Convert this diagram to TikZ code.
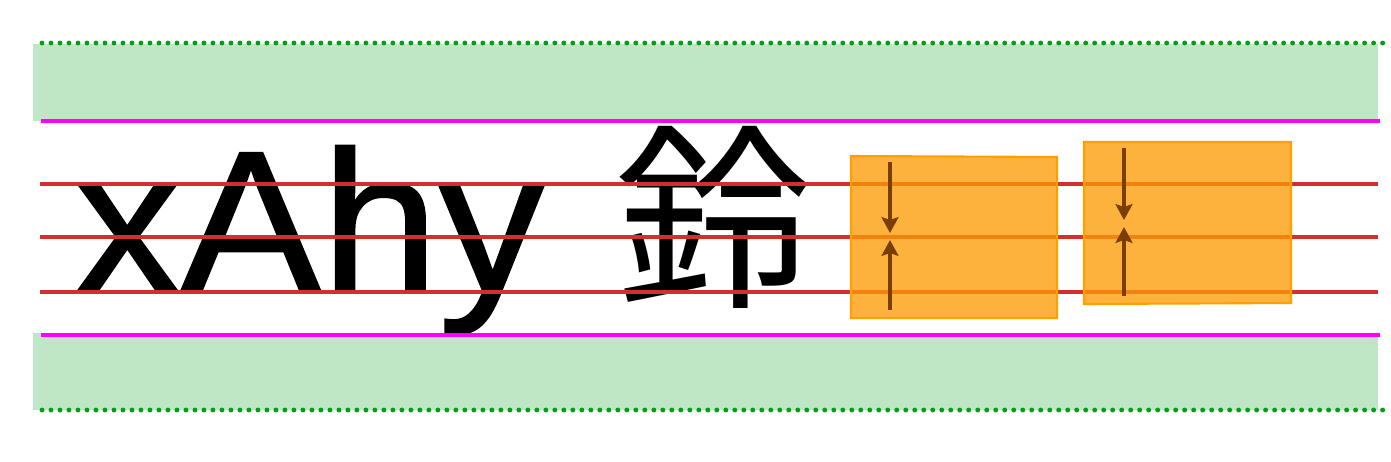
\documentclass[tikz,border=0pt]{standalone}
\usepackage{fontspec}
\usetikzlibrary{arrows.meta}
\newfontfamily\cjkfont{Noto Sans CJK JP}
\newfontfamily\latinfont[FakeBold=1]{Liberation Sans}
\definecolor{bandgreen}{RGB}{192,231,197}
\definecolor{dotgreen}{RGB}{0,160,20}
\definecolor{limitpink}{RGB}{255,0,255}
\definecolor{linered}{RGB}{211,47,47}
\definecolor{boxfill}{RGB}{252,155,4}
\definecolor{boxedge}{RGB}{255,160,0}
\definecolor{arrowbrown}{RGB}{122,62,0}
\tikzset{
  band/.style={fill=bandgreen, draw=none},
  dotline/.style={dotgreen, line width=1.4pt, line cap=round, dash pattern=on 0pt off 2.56pt},
  limitline/.style={limitpink, line width=1.2pt},
  guideline/.style={linered, line width=0.95pt},
  sample/.style={inner sep=0pt, anchor=base west},
  markbox/.style={fill=boxfill, fill opacity=0.77, draw=boxedge, line width=0.6pt},
  gap/.style={arrowbrown, line width=0.9pt, -{Stealth[length=4.5pt,width=4.8pt,inset=0.8pt]}}
}
\begin{document}
\begin{tikzpicture}
			%%%%% START %%%%%
			\useasboundingbox (0, 0) rectangle (13.91, 4.61);
			
			\fill[band] (0.33, 4.17) rectangle (13.78, 3.40);
			\fill[band] (0.33, 1.28) rectangle (13.78, 0.51);
			
			\node[sample, xscale=1.045, transform shape, font=\latinfont\fontsize{57.5}{60}\selectfont] (latin) at (0.74, 1.69) {xAhy};
			\node[sample, font=\cjkfont\fontsize{56.3}{60}\selectfont] (kanji) at (6.15, 1.69) {鈴};
			
			\draw[dotline] (0.42, 4.18) -- (13.88, 4.18);
			\draw[dotline] (0.42, 0.51) -- (13.88, 0.51);
			
			\draw[limitline] (0.41, 3.40) -- (13.80, 3.40);
			\draw[limitline] (0.41, 1.26) -- (13.80, 1.26);
			
			\draw[guideline] (0.40, 2.77) -- (13.78, 2.77);
			\draw[guideline] (0.40, 2.24) -- (13.78, 2.24);
			\draw[guideline] (0.40, 1.69) -- (13.78, 1.69);
			
			\draw[markbox] (8.51, 3.05) -- (10.57, 3.04) -- (10.57, 1.43) -- (8.51, 1.43) -- cycle;
			\draw[markbox] (10.84, 3.19) -- (12.91, 3.19) -- (12.91, 1.58) -- (10.84, 1.57) -- cycle;
			
			\coordinate (a1) at (8.90, 2.99);
			\coordinate (b1) at (8.90, 2.28);
			\coordinate (c1) at (8.90, 1.51);
			\coordinate (d1) at (8.90, 2.21);
			\coordinate (a2) at (11.24, 3.13);
			\coordinate (b2) at (11.24, 2.41);
			\coordinate (c2) at (11.24, 1.65);
			\coordinate (d2) at (11.24, 2.34);
			
			\draw[gap] (a1) -- (b1);
			\draw[gap] (c1) -- (d1);
			\draw[gap] (a2) -- (b2);
			\draw[gap] (c2) -- (d2);
			
			%%%%% END %%%%%
		\end{tikzpicture}
\end{document}
